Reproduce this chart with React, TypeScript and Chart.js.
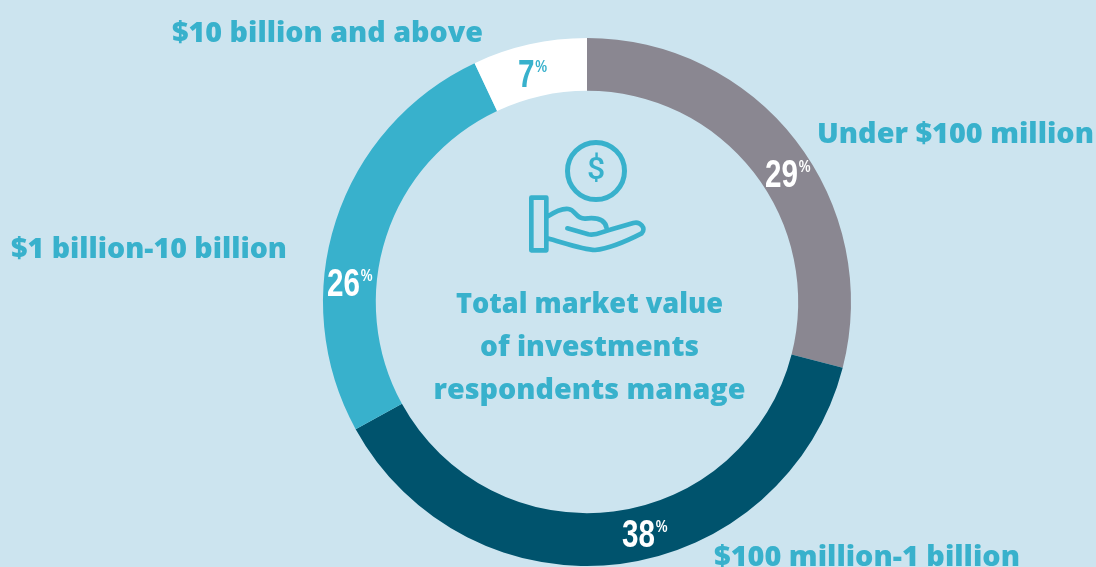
import React, { useEffect, useRef } from "react";
import { Chart, registerables } from "chart.js";

Chart.register(...registerables);

const categories = ["Under $100 million", "$100 million-1 billion", "$1 billion-10 billion", "$10 billion and above"];
const shares = [29, 38, 26, 7];
const sliceColors = ["#8A8791", "#00536D", "#38B1CC", "#FFFFFF"];
const shareColors = ["#FFFFFF", "#FFFFFF", "#FFFFFF", "#38B1CC"];
const centerLines = ["Total market value", "of investments", "respondents manage"];

const TEAL = "#38B1CC";
const LABEL_FONT = "800 29px 'Open Sans'";
const LABEL_POS: [number, number][] = [[817, 143], [714, 566], [11, 258], [172, 42]];
const LABEL_W = [277, 306, 276, 311];
const SHARE_POS: [number, number][] = [[765, 187], [622, 547], [327, 296], [518, 87]];
const CENTER_W = [267, 219, 312];

const overlay = {
  id: "overlay",
  afterDraw(chart: Chart) {
    const ctx = chart.ctx;
    ctx.save();
    ctx.textBaseline = "alphabetic";
    ctx.textAlign = "left";
    ctx.fillStyle = TEAL;
    ctx.font = LABEL_FONT;
    categories.forEach((c, i) => {
      const [x, y] = LABEL_POS[i];
      ctx.fillText(c, x, y, LABEL_W[i]);
    });
    shares.forEach((v, i) => {
      const [x, y] = SHARE_POS[i];
      const t = String(v);
      ctx.save();
      ctx.fillStyle = shareColors[i];
      ctx.translate(x, y);
      ctx.scale(0.78, 1);
      ctx.font = "bold 38px 'Liberation Sans'";
      ctx.fillText(t, 0, 0);
      const w = ctx.measureText(t).width;
      ctx.font = "bold 17px 'Liberation Sans'";
      ctx.fillText("%", w + 1, -15);
      ctx.restore();
    });
    ctx.fillStyle = TEAL;
    ctx.textAlign = "center";
    ctx.font = LABEL_FONT;
    centerLines.forEach((l, i) => ctx.fillText(l, 589.5, 313 + i * 43, CENTER_W[i]));
    ctx.restore();

    ctx.save();
    ctx.strokeStyle = TEAL;
    ctx.lineWidth = 5;
    ctx.lineCap = "round";
    ctx.lineJoin = "round";
    ctx.beginPath();
    ctx.arc(596, 171, 28.5, 0, Math.PI * 2);
    ctx.stroke();
    ctx.fillStyle = TEAL;
    ctx.textAlign = "center";
    ctx.textBaseline = "middle";
    ctx.font = "500 32px Roboto";
    ctx.fillText("$", 596, 171);
    ctx.translate(500, 120);
    ctx.scale(1 / 3, 1 / 3);
    ctx.lineWidth = 14;
    ctx.beginPath();
    ctx.rect(94, 233, 45, 158);
    ctx.moveTo(142, 290);
    ctx.bezierCurveTo(165, 275, 190, 265, 205, 267);
    ctx.bezierCurveTo(228, 270, 225, 295, 255, 296);
    ctx.bezierCurveTo(285, 292, 315, 295, 320, 325);
    ctx.moveTo(202, 325);
    ctx.lineTo(265, 343);
    ctx.bezierCurveTo(290, 348, 305, 335, 330, 329);
    ctx.lineTo(400, 309);
    ctx.bezierCurveTo(420, 303, 440, 325, 425, 340);
    ctx.bezierCurveTo(390, 358, 330, 385, 285, 390);
    ctx.bezierCurveTo(250, 390, 190, 368, 142, 355);
    ctx.stroke();
    ctx.restore();
  },
};

export default function App() {
  const ref = useRef<HTMLCanvasElement>(null);
  useEffect(() => {
    document.body.style.margin = "0";
    document.body.style.background = "#CCE4EF";
    const chart = new Chart(ref.current!, {
      type: "doughnut",
      data: {
        labels: categories,
        datasets: [{ data: shares, backgroundColor: sliceColors, borderWidth: 0, hoverOffset: 0 }],
      },
      options: {
        responsive: false,
        animation: false,
        cutout: "80%",
        layout: { padding: { left: 323, right: 245, top: 38, bottom: 1 } },
        plugins: { legend: { display: false }, tooltip: { enabled: false } },
      },
      plugins: [overlay],
    });
    return () => chart.destroy();
  }, []);
  return (
    <div style={{ width: 1096, height: 567, background: "#CCE4EF", overflow: "hidden" }}>
      <canvas ref={ref} width={1096} height={567} style={{ display: "block" }} />
    </div>
  );
}
